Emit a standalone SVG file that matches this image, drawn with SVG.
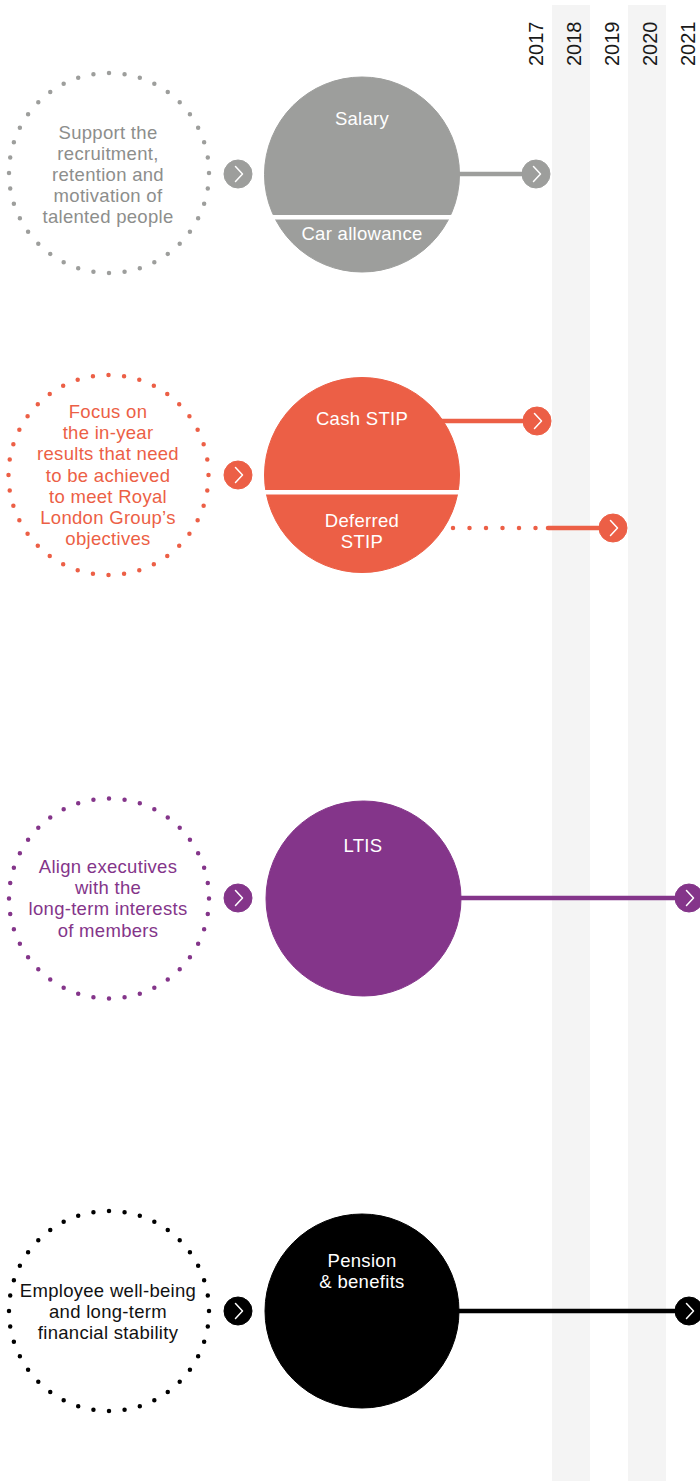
<svg xmlns="http://www.w3.org/2000/svg" xmlns:xlink="http://www.w3.org/1999/xlink" width="700" height="1481" viewBox="0 0 700 1481">
<style>
.band{fill:#f4f4f4}
.yr{font-family:"Liberation Sans",Arial,sans-serif;font-size:20px;fill:#1a1a1a}
.lbl{font-family:"Liberation Sans",Arial,sans-serif;font-size:18.5px;letter-spacing:0.3px;text-anchor:middle}
.in{fill:#ffffff}
.dots{fill:none;stroke-width:4.5;stroke-linecap:round;stroke-dasharray:0 1}
.ln{stroke-width:4.5;fill:none}
.chev{fill:none;stroke:#ffffff;stroke-width:1.5;stroke-linecap:round;stroke-linejoin:round}
.gray{fill:#9d9e9c;stroke:#9d9e9c}
.org{fill:#ec5f46;stroke:#ec5f46}
.pur{fill:#84358a;stroke:#84358a}
.blk{fill:#000000;stroke:#000000}
</style>
<defs>
<path id="chev" d="M-2.5,-7.5 L4.5,0 L-2.5,7.5"/>
</defs>
<rect width="700" height="1481" fill="#ffffff"/>
<g id="timeline">
<rect class="band" x="552" y="5" width="38" height="1476"/>
<rect class="band" x="628" y="5" width="38" height="1476"/>
<text class="yr" transform="translate(543,66) rotate(-90)">2017</text>
<text class="yr" transform="translate(581,66) rotate(-90)">2018</text>
<text class="yr" transform="translate(619,66) rotate(-90)">2019</text>
<text class="yr" transform="translate(657,66) rotate(-90)">2020</text>
<text class="yr" transform="translate(695,66) rotate(-90)">2021</text>
</g>
<g id="connectors">
<line class="ln gray" x1="400" y1="174" x2="536" y2="174"/>
<line class="ln org" x1="400" y1="421" x2="537" y2="421"/>
<line class="ln org" x1="453" y1="528" x2="540" y2="528" stroke-linecap="round" stroke-dasharray="0 16.5"/>
<line class="ln org" x1="548" y1="528" x2="613" y2="528" stroke-linecap="round"/>
<line class="ln pur" x1="400" y1="898" x2="689" y2="898"/>
<line class="ln blk" x1="400" y1="1311" x2="689" y2="1311"/>
</g>
<g id="purpose-1">
<circle class="dots" cx="109" cy="173" r="100" stroke="#9d9e9c" pathLength="40"/>
<text class="lbl" fill="#8d8e8c"><tspan x="108" y="139">Support the</tspan><tspan x="108" y="160">recruitment,</tspan><tspan x="108" y="181">retention and</tspan><tspan x="108" y="202">motivation of</tspan><tspan x="108" y="223">talented people</tspan></text>
<circle class="gray" cx="238" cy="174" r="14"/><use href="#chev" class="chev" x="238" y="174"/>
</g>
<g id="salary">
<circle class="gray" cx="362" cy="174.5" r="97.5"/>
<rect x="260" y="215" width="205" height="4.5" fill="#ffffff"/>
<text class="lbl in" x="362" y="125">Salary</text>
<text class="lbl in" x="362" y="240">Car allowance</text>
<circle class="gray" cx="536" cy="174" r="14"/><use href="#chev" class="chev" x="536" y="174"/>
</g>
<g id="purpose-2">
<circle class="dots" cx="108.5" cy="475" r="100" stroke="#ec5f46" pathLength="40"/>
<text class="lbl" fill="#ec5f46"><tspan x="108" y="418">Focus on</tspan><tspan x="108" y="439">the in-year</tspan><tspan x="108" y="460">results that need</tspan><tspan x="108" y="482">to be achieved</tspan><tspan x="108" y="503">to meet Royal</tspan><tspan x="108" y="524">London Group’s</tspan><tspan x="108" y="545">objectives</tspan></text>
<circle class="org" cx="238" cy="475" r="14"/><use href="#chev" class="chev" x="238" y="475"/>
</g>
<g id="stip">
<circle class="org" cx="362" cy="475" r="97.5"/>
<rect x="260" y="490" width="205" height="4.5" fill="#ffffff"/>
<text class="lbl in" x="362" y="425">Cash STIP</text>
<text class="lbl in"><tspan x="362" y="527">Deferred</tspan><tspan x="362" y="548">STIP</tspan></text>
<circle class="org" cx="537" cy="421" r="14"/><use href="#chev" class="chev" x="537" y="421"/>
<circle class="org" cx="613" cy="528" r="14"/><use href="#chev" class="chev" x="613" y="528"/>
</g>
<g id="purpose-3">
<circle class="dots" cx="109" cy="898.5" r="100" stroke="#84358a" pathLength="40"/>
<text class="lbl" fill="#84358a"><tspan x="108" y="873">Align executives</tspan><tspan x="108" y="894">with the</tspan><tspan x="108" y="915">long-term interests</tspan><tspan x="108" y="937">of members</tspan></text>
<circle class="pur" cx="238" cy="898" r="14"/><use href="#chev" class="chev" x="238" y="898"/>
</g>
<g id="ltis">
<circle class="pur" cx="363.5" cy="898.5" r="97.5"/>
<text class="lbl in" x="363" y="852">LTIS</text>
<circle class="pur" cx="689" cy="898" r="14"/><use href="#chev" class="chev" x="689" y="898"/>
</g>
<g id="purpose-4">
<circle class="dots" cx="109" cy="1311" r="100" stroke="#000000" pathLength="40"/>
<text class="lbl" fill="#111111"><tspan x="108" y="1297">Employee well-being</tspan><tspan x="108" y="1318">and long-term</tspan><tspan x="108" y="1339">financial stability</tspan></text>
<circle class="blk" cx="238" cy="1311" r="14"/><use href="#chev" class="chev" x="238" y="1311"/>
</g>
<g id="pension">
<circle class="blk" cx="362" cy="1311" r="97"/>
<text class="lbl in"><tspan x="362" y="1267">Pension</tspan><tspan x="362" y="1288">&amp; benefits</tspan></text>
<circle class="blk" cx="689" cy="1311" r="14"/><use href="#chev" class="chev" x="689" y="1311"/>
</g>
</svg>
